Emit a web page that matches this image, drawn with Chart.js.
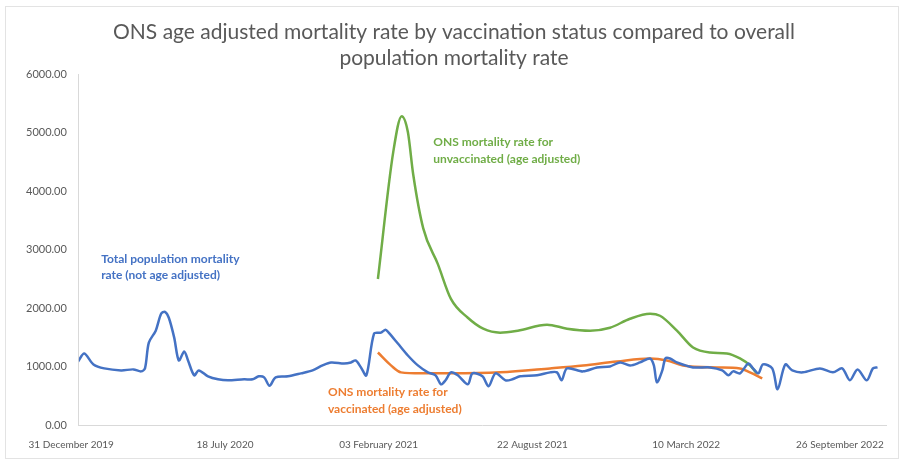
<!DOCTYPE html>
<html>
<head>
<meta charset="utf-8">
<script src="https://cdn.jsdelivr.net/npm/chart.js@4.4.0/dist/chart.umd.min.js"></script>
<style>
    body { margin: 0; background: #ffffff; }
    #wrap { width: 904px; height: 465px; position: relative; }
</style>
</head>
<body>
<div id="wrap"><canvas id="chart" width="904" height="465"></canvas></div>
<script>
// x values are days since 31 December 2019
const tickDays = [0, 200, 400, 600, 800, 1000];
const tickLabels = ["31 December 2019", "18 July 2020", "03 February 2021", "22 August 2021", "10 March 2022", "26 September 2022"];

const totalDays = [9, 17, 29, 43, 65, 81, 91, 96, 101, 110, 117, 122, 127, 134, 140, 147, 152, 160, 166, 178, 191, 204, 225, 236, 244, 251, 258, 266, 282, 299, 314, 327, 338, 355, 364, 370, 377, 384, 394, 403, 409, 413, 425, 438, 451, 464, 474, 481, 487, 494, 503, 516, 522, 535, 543, 552, 565, 574, 584, 606, 623, 632, 638, 645, 666, 684, 701, 714, 727, 740, 753, 758, 762, 769, 773, 779, 788, 809, 831, 847, 855, 861, 870, 881, 887, 894, 900, 912, 919, 929, 938, 952, 974, 991, 1003, 1013, 1023, 1035, 1043, 1049];
const totalRate = [1088, 1224, 1037, 969, 935, 952, 918, 969, 1411, 1615, 1904, 1938, 1836, 1496, 1105, 1258, 1105, 850, 935, 833, 782, 765, 782, 782, 833, 816, 670, 816, 833, 884, 935, 1020, 1071, 1054, 1071, 1105, 986, 850, 1564, 1581, 1632, 1581, 1394, 1190, 1020, 901, 850, 697, 765, 901, 850, 697, 884, 833, 663, 884, 765, 782, 833, 850, 901, 901, 765, 969, 918, 986, 1003, 1071, 1020, 1071, 1139, 1020, 731, 935, 1139, 1139, 1071, 986, 986, 935, 850, 918, 884, 1054, 969, 884, 1037, 969, 612, 1037, 935, 901, 969, 901, 969, 765, 952, 765, 969, 986];

const unvaxDays = [399, 419, 430, 438, 445, 458, 477, 494, 516, 536, 558, 581, 619, 645, 675, 701, 727, 753, 766, 788, 809, 831, 853, 870, 883, 892];
const unvaxRate = [2499, 4675, 5287, 5015, 4284, 3366, 2754, 2159, 1836, 1649, 1581, 1615, 1717, 1649, 1615, 1666, 1819, 1904, 1870, 1615, 1326, 1241, 1224, 1139, 1020, 884];

const vaxDays = [399, 416, 429, 455, 494, 558, 623, 666, 710, 753, 775, 796, 840, 870, 883, 899];
const vaxRate = [1241, 1020, 901, 884, 884, 901, 969, 1020, 1088, 1139, 1105, 1020, 986, 969, 901, 799];

function toPoints(days, values) {
    let points = [];
    for (let i = 0; i < days.length; i++) {
        points.push({ x: days[i], y: values[i] });
    }
    return points;
}

const labelFont = "Lato, 'Open Sans', sans-serif";

// text notes placed next to each line, in data coordinates
const notes = [
    { lines: ["Total population mortality", "rate (not age adjusted)"], x: 39, y: 2840, color: "#4472C4" },
    { lines: ["ONS mortality rate for", "unvaccinated (age adjusted)"], x: 471, y: 4840, color: "#70AD47" },
    { lines: ["ONS mortality rate for", "vaccinated (age adjusted)"], x: 334, y: 560, color: "#ED7D31" },
];

const notesPlugin = {
    id: "notes",
    afterDatasetsDraw(chart) {
        const ctx = chart.ctx;
        const xs = chart.scales.x;
        const ys = chart.scales.y;
        ctx.save();
        ctx.font = "bold 12px " + labelFont;
        ctx.textBaseline = "middle";
        ctx.textAlign = "left";
        for (let note of notes) {
            let px = xs.getPixelForValue(note.x);
            let py = ys.getPixelForValue(note.y);
            note.lines.forEach((line, i) => {
                ctx.fillStyle = note.color;
                ctx.fillText(line, px, py + i * 16.5);
            });
        }
        ctx.restore();
    },
    beforeDraw(chart) {
        const ctx = chart.ctx;
        ctx.save();
        ctx.strokeStyle = "#e3e3e3";
        ctx.lineWidth = 1;
        ctx.strokeRect(5.5, 6.5, 893, 452);
        ctx.restore();
    },
};

new Chart(document.getElementById("chart"), {
    type: "line",
    data: {
        datasets: [
            {
                label: "Total population mortality rate (not age adjusted)",
                data: toPoints(totalDays, totalRate),
                borderColor: "#4472C4",
                borderWidth: 2.5,
                pointRadius: 0,
                tension: 0.3,
                fill: false,
            },
            {
                label: "ONS mortality rate for vaccinated (age adjusted)",
                data: toPoints(vaxDays, vaxRate),
                borderColor: "#ED7D31",
                borderWidth: 2.5,
                pointRadius: 0,
                cubicInterpolationMode: "monotone",
                fill: false,
            },
            {
                label: "ONS mortality rate for unvaccinated (age adjusted)",
                data: toPoints(unvaxDays, unvaxRate),
                borderColor: "#70AD47",
                borderWidth: 2.5,
                pointRadius: 0,
                cubicInterpolationMode: "monotone",
                fill: false,
            },
        ],
    },
    options: {
        responsive: false,
        animation: false,
        layout: { padding: { left: 22, right: 18, top: 0, bottom: 8 } },
        plugins: {
            legend: { display: false },
            tooltip: { enabled: false },
            title: {
                display: true,
                text: ["ONS age adjusted mortality rate by vaccination status compared to overall", "population mortality rate"],
                color: "#595959",
                font: { family: labelFont, size: 21, weight: "normal", lineHeight: 1.25 },
                padding: { top: 19, bottom: 3 },
            },
        },
        scales: {
            x: {
                type: "linear",
                min: 10,
                max: 1060,
                afterBuildTicks: (axis) => {
                    axis.ticks = tickDays.map((d) => ({ value: d }));
                },
                ticks: {
                    autoSkip: false,
                    maxRotation: 0,
                    color: "#595959",
                    font: { family: labelFont, size: 10 },
                    padding: 6,
                    callback: (value) => tickLabels[tickDays.indexOf(value)],
                },
                grid: { display: false },
                border: { display: true, color: "#d9d9d9", width: 1 },
            },
            y: {
                min: 0,
                max: 6000,
                ticks: {
                    stepSize: 1000,
                    color: "#595959",
                    font: { family: labelFont, size: 11 },
                    padding: 4,
                    callback: (value) => value.toFixed(2),
                },
                grid: { display: false },
                border: { display: true, color: "#d9d9d9", width: 1 },
            },
        },
    },
    plugins: [notesPlugin],
});
</script>
</body>
</html>
